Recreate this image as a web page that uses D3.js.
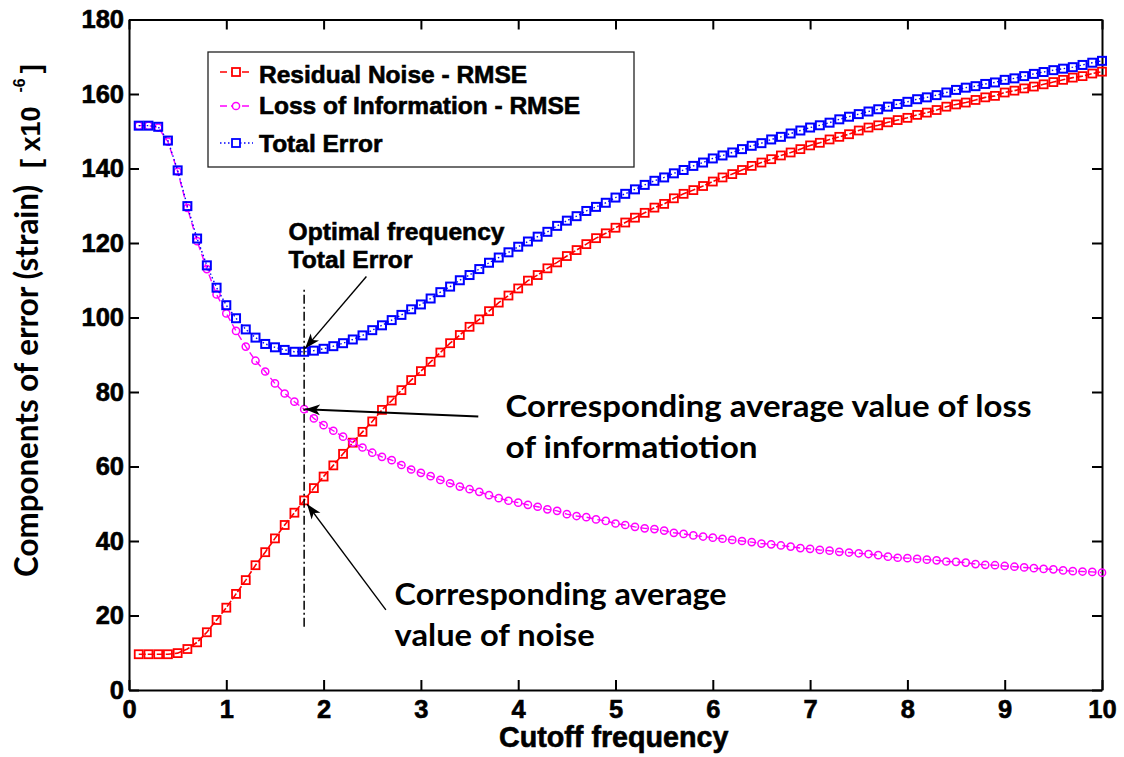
<!DOCTYPE html>
<html><head><meta charset="utf-8">
<script src="https://cdn.jsdelivr.net/npm/d3@7"></script>
<style>body{margin:0;background:#fff}svg{display:block}</style>
</head><body><svg id="c" width="1124" height="757"></svg>
<script>
// ---- data ----
const freqs = [0.1,0.2,0.3,0.4,0.5,0.6,0.7,0.8,0.9,1.0,1.1,1.2,1.3,1.4,1.5,1.6,1.7,1.8,1.9,2.0,
2.1,2.2,2.3,2.4,2.5,2.6,2.7,2.8,2.9,3.0,3.1,3.2,3.3,3.4,3.5,3.6,3.7,3.8,3.9,4.0,
4.1,4.2,4.3,4.4,4.5,4.6,4.7,4.8,4.9,5.0,5.1,5.2,5.3,5.4,5.5,5.6,5.7,5.8,5.9,6.0,
6.1,6.2,6.3,6.4,6.5,6.6,6.7,6.8,6.9,7.0,7.1,7.2,7.3,7.4,7.5,7.6,7.7,7.8,7.9,8.0,
8.1,8.2,8.3,8.4,8.5,8.6,8.7,8.8,8.9,9.0,9.1,9.2,9.3,9.4,9.5,9.6,9.7,9.8,9.9,10.0];

const residualNoise = [9.6,9.6,9.6,9.6,9.9,11.0,12.8,15.5,18.8,22.1,
25.8,29.5,33.5,37.0,40.7,44.3,47.6,50.9,54.2,57.3,
60.3,63.4,66.4,69.3,72.1,75.2,77.7,80.5,83.2,85.6,
88.1,90.6,93.1,95.3,97.5,99.5,101.7,104.0,105.9,107.8,
109.9,111.4,113.2,114.8,116.5,118.1,119.7,121.3,122.6,124.1,
125.5,126.8,128.1,129.5,130.5,132.0,133.2,134.2,135.3,136.5,
137.6,138.5,139.6,140.7,141.6,142.5,143.5,144.3,145.2,146.2,
146.9,147.8,148.5,149.2,150.2,151.0,151.6,152.4,153.0,153.6,
154.4,155.0,155.7,156.6,157.2,157.7,158.4,159.1,159.5,160.4,
160.9,161.5,162.0,162.6,163.2,163.8,164.4,164.8,165.5,166.0];

const lossOfInformation = [151.5,151.5,151.0,147.2,139.2,129.4,120.5,113.0,106.2,101.1,
96.4,92.2,88.4,85.5,82.3,79.6,77.4,75.4,72.9,71.1,
69.6,68.0,66.4,65.1,63.7,62.6,61.7,60.4,59.2,58.3,
57.4,56.4,55.5,54.6,53.9,53.2,52.3,51.5,50.8,50.3,
49.7,49.2,48.5,48.1,47.2,46.7,46.4,45.8,45.4,44.7,
44.3,43.8,43.4,43.2,42.8,42.2,41.9,41.5,41.2,40.9,
40.6,40.3,40.0,39.7,39.3,39.1,38.8,38.5,38.1,37.9,
37.6,37.4,37.1,36.9,36.7,36.5,36.2,35.8,35.5,35.4,
35.2,35.0,34.8,34.5,34.4,34.2,33.8,33.6,33.5,33.3,
33.1,32.9,32.7,32.5,32.4,32.1,31.9,31.8,31.7,31.5];

const totalError = [151.5,151.5,151.2,147.5,139.5,129.9,121.2,114.0,108.0,103.3,
99.8,96.8,94.6,92.9,92.0,91.3,90.8,90.8,91.1,91.6,
92.3,93.1,94.1,95.2,96.6,97.9,99.3,100.7,102.2,103.5,
105.1,106.8,108.3,110.0,111.4,113.0,114.7,116.1,117.5,119.0,
120.4,121.7,123.0,124.6,126.0,127.2,128.6,129.7,130.8,132.2,
133.2,134.4,135.6,136.7,137.6,138.7,139.6,140.7,141.6,142.7,
143.5,144.3,145.2,146.1,146.8,147.8,148.5,149.4,150.2,151.0,
151.6,152.3,153.2,153.9,154.6,155.3,155.9,156.6,157.3,157.9,
158.6,159.1,159.7,160.4,161.1,161.7,162.1,162.7,163.1,163.8,
164.2,164.8,165.4,165.9,166.4,166.8,167.2,167.8,168.4,168.9];

const xTicks = [0,1,2,3,4,5,6,7,8,9,10];
const yTicks = [0,20,40,60,80,100,120,140,160,180];
const seriesNames = ["Residual Noise - RMSE","Loss of Information - RMSE","Total Error"];
const seriesColors = ["#ff0000","#ff00ff","#0000ff"];

// annotation anchors in data units
const optimalFreq = 1.8;
const optimalLineY = [17, 108];
const arrowTotal = [[2.44,111.0],[1.81,91.7]];
const arrowLoss = [[3.59,73.4],[1.81,75.4]];
const arrowNoise = [[2.64,21.5],[1.83,49.9]];
const labelOptimal = [1.64, ["Optimal frequency","Total Error"]];
const labelLoss = [3.87, ["Corresponding average value of loss","of informatiotion"]];
const labelNoise = [2.73, ["Corresponding average","value of noise"]];

// ---- drawing ----
const svg = d3.select("#c");
const W = 1124, H = 757;
const x = d3.scaleLinear().domain([0,10]).range([129,1102]);
const y = d3.scaleLinear().domain([0,180]).range([690,19.5]);
const arial = "'Liberation Sans', Arial, sans-serif";
const calibri = "Lato, 'Open Sans', sans-serif";

svg.append("rect").attr("width",W).attr("height",H).attr("fill","#fff");

const defs = svg.append("defs");
defs.append("marker").attr("id","arr").attr("markerUnits","userSpaceOnUse")
  .attr("markerWidth",16).attr("markerHeight",12).attr("refX",15).attr("refY",6)
  .attr("orient","auto")
  .append("path").attr("d","M0,0.5 L15,6 L0,11.5 L4,6 Z").attr("fill","#000");

function heavy(sel){ return sel.attr("stroke","#000").attr("stroke-width",0.6).attr("paint-order","stroke"); }

// axes
function styleAxis(g, labels){
  g.select(".domain").attr("stroke","#000").attr("stroke-width",2);
  g.selectAll(".tick line").attr("stroke","#000").attr("stroke-width",2);
  const t = g.selectAll(".tick text").attr("font-family",arial).attr("font-weight","bold")
    .attr("font-size",25.5).attr("fill","#000");
  heavy(t);
  if(!labels) g.selectAll(".tick text").remove();
}
const gx = svg.append("g").attr("transform",`translate(0,${y(0)})`)
  .call(d3.axisBottom(x).tickValues(xTicks).tickFormat(d3.format("d")).tickSizeInner(-10).tickSizeOuter(0).tickPadding(10));
styleAxis(gx,true);
const gy = svg.append("g").attr("transform",`translate(${x(0)},0)`)
  .call(d3.axisLeft(y).tickValues(yTicks).tickFormat(d3.format("d")).tickSizeInner(-10).tickSizeOuter(0).tickPadding(5));
styleAxis(gy,true);
const gt = svg.append("g").attr("transform",`translate(0,${y(180)})`)
  .call(d3.axisTop(x).tickValues(xTicks).tickSizeInner(-10).tickSizeOuter(0));
styleAxis(gt,false);
const gr = svg.append("g").attr("transform",`translate(${x(10)},0)`)
  .call(d3.axisRight(y).tickValues(yTicks).tickSizeInner(-10).tickSizeOuter(0));
styleAxis(gr,false);

// series
const series = [residualNoise, lossOfInformation, totalError];
const dashes = ["7,2","7,4","1.5,2.5"];
const line = d3.line();
series.forEach((vals,i)=>{
  const pts = freqs.map((f,j)=>[x(f), y(vals[j])]);
  const g = svg.append("g");
  g.append("path").attr("d",line(pts)).attr("fill","none")
    .attr("stroke",seriesColors[i]).attr("stroke-width",i===0?1.6:1.4)
    .attr("stroke-dasharray",dashes[i]);
  if(i===1){
    g.selectAll("circle").data(pts).join("circle")
      .attr("cx",d=>d[0]).attr("cy",d=>d[1]).attr("r",3.6)
      .attr("fill","none").attr("stroke",seriesColors[i]).attr("stroke-width",1.5);
  } else {
    const s = 8;
    g.selectAll("rect").data(pts).join("rect")
      .attr("x",d=>d[0]-s/2).attr("y",d=>d[1]-s/2).attr("width",s).attr("height",s)
      .attr("fill","none").attr("stroke",seriesColors[i]).attr("stroke-width",i===2?2:1.8);
  }
});

// optimal frequency dash-dot line
svg.append("line").attr("x1",x(optimalFreq)).attr("x2",x(optimalFreq))
  .attr("y1",y(optimalLineY[0])).attr("y2",y(optimalLineY[1]))
  .attr("stroke","#000").attr("stroke-width",1.5).attr("stroke-dasharray","9,3,2,3");

// arrows
[[arrowTotal,1.4],[arrowLoss,2],[arrowNoise,1.4]].forEach(([a,w])=>{
  svg.append("line").attr("x1",x(a[0][0])).attr("y1",y(a[0][1]))
    .attr("x2",x(a[1][0])).attr("y2",y(a[1][1]))
    .attr("stroke","#000").attr("stroke-width",w).attr("marker-end","url(#arr)");
});

// annotation texts
const tOpt = svg.append("text").attr("font-family",arial).attr("font-weight","bold")
  .attr("font-size",24.6).attr("fill","#000");
heavy(tOpt);
tOpt.append("tspan").attr("x",x(labelOptimal[0])).attr("y",240).text(labelOptimal[1][0]);
tOpt.append("tspan").attr("x",x(labelOptimal[0])).attr("y",268).text(labelOptimal[1][1]);

function calText(xv, lines, ys, lens){
  lines.forEach((t,i)=>{
    svg.append("text").attr("x",x(xv)).attr("y",ys[i])
      .attr("font-family",calibri).attr("font-weight","bold").attr("font-size",30)
      .attr("fill","#000").attr("textLength",lens[i]).attr("lengthAdjust","spacingAndGlyphs")
      .text(t);
  });
}
calText(labelLoss[0], labelLoss[1], [417,458], [526,252]);
calText(labelNoise[0], labelNoise[1], [605,646], [332,200]);

// x axis label
heavy(svg.append("text").attr("x",499).attr("y",747)
  .attr("font-family",arial).attr("font-weight","bold").attr("font-size",28.7)
  .attr("fill","#000").text("Cutoff frequency"));

// y axis label
svg.append("text").attr("transform","translate(38,577) rotate(-90)")
  .attr("font-family",calibri).attr("font-weight","bold").attr("font-size",33)
  .attr("textLength",392).attr("lengthAdjust","spacingAndGlyphs")
  .attr("fill","#000").text("Components of error (strain)");
const yl2 = svg.append("text").attr("transform","translate(40,168) rotate(-90)")
  .attr("font-family",arial).attr("font-weight","bold").attr("font-size",27).attr("fill","#000");
yl2.append("tspan").text("[ x10");
yl2.append("tspan").attr("dx",14).attr("dy",-15).attr("font-size",16).text("-6");
yl2.append("tspan").attr("dx",5).attr("dy",15).text("]");

// legend
const lg = svg.append("g");
lg.append("rect").attr("x",208).attr("y",52).attr("width",426).attr("height",115)
  .attr("fill","#fff").attr("stroke","#222").attr("stroke-width",1.3);
const rowsY = [72,106,143], baseY = [83,114,152];
seriesNames.forEach((n,i)=>{
  lg.append("line").attr("x1",220).attr("x2",253).attr("y1",rowsY[i]).attr("y2",rowsY[i])
    .attr("stroke",seriesColors[i]).attr("stroke-width",1.4).attr("stroke-dasharray",i===2?"1.5,2.5":"7,4");
  if(i===1){
    lg.append("circle").attr("cx",236).attr("cy",rowsY[i]).attr("r",3.6).attr("fill","#fff")
      .attr("stroke",seriesColors[i]).attr("stroke-width",1.5);
  } else {
    lg.append("rect").attr("x",232).attr("y",rowsY[i]-4).attr("width",8).attr("height",8)
      .attr("fill","#fff").attr("stroke",seriesColors[i]).attr("stroke-width",1.8);
  }
  heavy(lg.append("text").attr("x",259).attr("y",baseY[i]).attr("font-family",arial)
    .attr("font-weight","bold").attr("font-size",24.5).attr("fill","#000").text(n));
});
</script></body></html>
